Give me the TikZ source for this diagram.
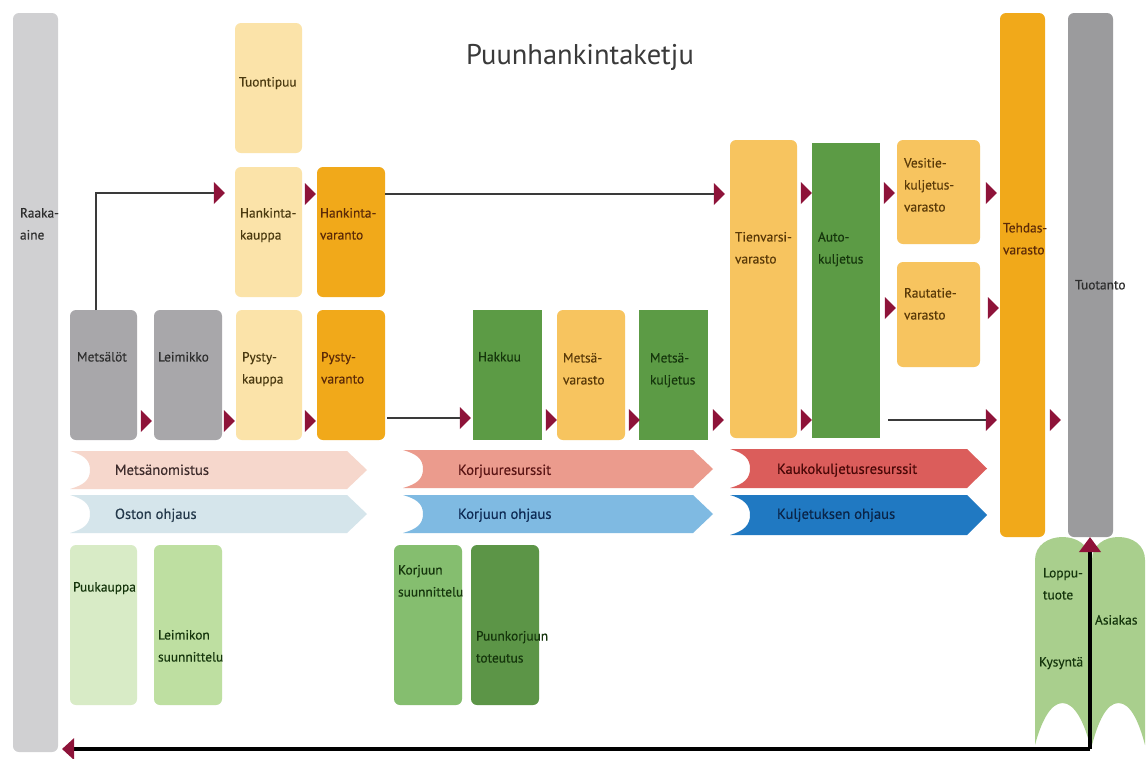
\documentclass[tikz,border=0pt]{standalone}
\usepackage{fontspec}
\setmainfont{PT Sans}
\newfontfamily\lblfont{PT Sans}[FakeBold=0.35]
\usetikzlibrary{shapes.geometric,arrows.meta,calc}
\definecolor{raw}{HTML}{D0D0D2}
\definecolor{gray1}{HTML}{A8A7AA}
\definecolor{ly}{HTML}{FBE3A9}
\definecolor{org}{HTML}{F1A91A}
\definecolor{my}{HTML}{F7C45F}
\definecolor{grn}{HTML}{5C9B45}
\definecolor{tuo}{HTML}{9B9B9D}
\definecolor{puuk}{HTML}{D8EBC6}
\definecolor{leim}{HTML}{BEDFA1}
\definecolor{ksuu}{HTML}{85BE6F}
\definecolor{ptot}{HTML}{5C9547}
\definecolor{asi}{HTML}{A9CF8D}
\definecolor{crim}{HTML}{8E1339}
\definecolor{lnc}{HTML}{3A3A3A}
\definecolor{chA}{HTML}{F6D7CC}
\definecolor{chB}{HTML}{D5E5EB}
\definecolor{chC}{HTML}{EB9B8D}
\definecolor{chD}{HTML}{7FBAE2}
\definecolor{chE}{HTML}{DB5D5B}
\definecolor{chF}{HTML}{2079C2}
\definecolor{tGray}{HTML}{2E2E2E}
\definecolor{tOl}{HTML}{4B3A10}
\definecolor{tOr}{HTML}{5C2A08}
\definecolor{tGr}{HTML}{15350C}
\definecolor{tMy}{HTML}{5A3A08}
\definecolor{tC1}{HTML}{3E2C2C}
\definecolor{tC2}{HTML}{23384A}
\definecolor{tC3}{HTML}{5B1515}
\definecolor{tC4}{HTML}{0E2B55}
\definecolor{tC5}{HTML}{4A0808}
\definecolor{tC6}{HTML}{0A2448}
\tikzset{
  boxr/.style={rectangle, rounded corners=6pt, draw=none, inner sep=0pt, outer sep=0pt},
  boxs/.style={rectangle, draw=none, inner sep=0pt, outer sep=0pt},
  txt/.style={inner sep=0pt, outer sep=0pt, align=left, font=\lblfont\fontsize{13.4}{22}\selectfont},
  ctxt/.style={txt, font=\lblfont\fontsize{14.6}{22}\selectfont},
  tri/.style={isosceles triangle, isosceles triangle stretches, fill=crim, draw=none,
              inner sep=0pt, outer sep=0pt, minimum width=22pt, minimum height=11pt,
              shape border rotate=0},
  flow/.style={draw=lnc, line width=1.4pt},
  big/.style={draw=black, line width=4pt},
}
\newcommand\mkbox[7]{\node[#7, fill=#6, minimum width={#4-#2}, minimum height={#5-#3}, anchor=north west] (#1) at (#2,#3) {};}
\newcommand\lbl[5]{\node[txt, text=#4, anchor=north west] (#1) at (#2,#3-5) {#5};}
\newcommand\clbl[5]{\node[ctxt, text=#4, anchor=north west] (#1) at (#2,#3-5.5) {#5};}
\newcommand\tri[3]{\node[tri] (#1) at (#2+5.5,#3) {};}
\newcommand\chev[6]{%
  \fill[#6] (#2,#4) -- (#3-20,#4) -- (#3,{(#4+#5)/2}) -- (#3-20,#5) -- (#2,#5)
    .. controls (#2+14,#5-4) and (#2+20,{(#4+#5)/2+10}) .. (#2+20,{(#4+#5)/2})
    .. controls (#2+20,{(#4+#5)/2-10}) and (#2+14,#4+4) .. (#2,#4) -- cycle;}
\newcommand\arch[3]{%
  \fill[asi] (#1,745) -- (#1,560) .. controls (#1,545) and (#3-14,537) .. (#3,537)
    .. controls (#3+14,537) and (#2,545) .. (#2,560) -- (#2,745)
    .. controls (#2-6,722) and (#3+12,703) .. (#3,703)
    .. controls (#3-12,703) and (#1+6,722) .. (#1,745) -- cycle;}
\begin{document}
\begin{tikzpicture}[x=1pt,y=-1pt]
\useasboundingbox[fill=white] (0,0) rectangle (1147,758);

% title
\node[inner sep=0pt, text=lnc, font=\fontsize{28.5}{32}\selectfont] (title) at (580,57) {Puunhankintaketju};

% boxes
\mkbox{raaka}{13}{13}{58}{752}{raw}{boxr}
\mkbox{tuontipuu}{235}{23}{302}{153}{ly}{boxr}
\mkbox{hkauppa}{235}{167}{302}{297}{ly}{boxr}
\mkbox{hvaranto}{317}{167}{385}{297}{org}{boxr}
\mkbox{metsalot}{70}{310}{137}{440}{gray1}{boxr}
\mkbox{leimikko}{154}{310}{222}{440}{gray1}{boxr}
\mkbox{pkauppa}{236}{310}{302}{440}{ly}{boxr}
\mkbox{pvaranto}{317}{310}{385}{440}{org}{boxr}
\mkbox{hakkuu}{473}{310}{542}{440}{grn}{boxs}
\mkbox{mvarasto}{557}{310}{625}{440}{my}{boxr}
\mkbox{mkuljetus}{639}{310}{708}{440}{grn}{boxs}
\mkbox{tienvarsi}{730}{140}{797}{438}{my}{boxr}
\mkbox{auto}{812}{143}{880}{438}{grn}{boxs}
\mkbox{vesitie}{897}{140}{980}{244}{my}{boxr}
\mkbox{rautatie}{897}{262}{980}{367}{my}{boxr}
\mkbox{tehdas}{1000}{13}{1045}{537}{org}{boxr}
\mkbox{tuotanto}{1068}{13}{1113}{537}{tuo}{boxr}
\mkbox{puukauppa}{70}{545}{137}{705}{puuk}{boxr}
\mkbox{leimikon}{154}{545}{222}{705}{leim}{boxr}
\mkbox{ksuunn}{394}{545}{462}{705}{ksuu}{boxr}
\mkbox{ptoteutus}{471}{545}{539}{705}{ptot}{boxr}

% chevrons
\chev{c1}{70}{367}{451}{489}{chA}
\chev{c2}{70}{367}{495}{533}{chB}
\chev{c3}{403}{713}{450}{488}{chC}
\chev{c4}{403}{713}{495}{533}{chD}
\chev{c5}{730}{987}{449}{488}{chE}
\chev{c6}{730}{987}{495}{535}{chF}

% customer shapes
\arch{1035}{1090}{1062.5}
\arch{1092}{1145}{1118.5}

% labels
\lbl{raaka-t}{20}{213}{tGray}{Raaka-\\aine}
\lbl{tuontipuu-t}{239}{82}{tOl}{Tuontipuu}
\lbl{hkauppa-t}{240}{213}{tOl}{Hankinta-\\kauppa}
\lbl{hvaranto-t}{320}{213}{tOr}{Hankinta-\\varanto}
\lbl{metsalot-t}{77}{357}{tGray}{Metsälöt}
\lbl{leimikko-t}{158}{357}{tGray}{Leimikko}
\lbl{pkauppa-t}{242}{357}{tOl}{Pysty-\\kauppa}
\lbl{pvaranto-t}{321}{357}{tOr}{Pysty-\\varanto}
\lbl{hakkuu-t}{478}{357}{tGr}{Hakkuu}
\lbl{mvarasto-t}{563}{358}{tMy}{Metsä-\\varasto}
\lbl{mkuljetus-t}{650}{358}{tGr}{Metsä-\\kuljetus}
\lbl{tienvarsi-t}{735}{237}{tMy}{Tienvarsi-\\varasto}
\lbl{auto-t}{818}{237}{tGr}{Auto-\\kuljetus}
\lbl{vesitie-t}{904}{163}{tMy}{Vesitie-\\kuljetus-\\varasto}
\lbl{rautatie-t}{904}{293}{tMy}{Rautatie-\\varasto}
\lbl{tehdas-t}{1003}{228}{tOr}{Tehdas-\\varasto}
\lbl{tuotanto-t}{1075}{285}{tGray}{Tuotanto}
\lbl{puukauppa-t}{73}{587}{tGr}{Puukauppa}
\lbl{leimikon-t}{158}{635}{tGr}{Leimikon\\suunnittelu}
\lbl{ksuunn-t}{398}{570}{tGr}{Korjuun\\suunnittelu}
\lbl{ptoteutus-t}{476}{636}{tGr}{Puunkorjuun\\toteutus}
\lbl{loppu-t}{1043}{573}{tGr}{Loppu-\\tuote}
\lbl{kysynta-t}{1039}{662}{tGr}{Kysyntä}
\lbl{asiakas-t}{1095}{620}{tGr}{Asiakas}
\clbl{c1-t}{115}{470}{tC1}{Metsänomistus}
\clbl{c2-t}{115}{514}{tC2}{Oston ohjaus}
\clbl{c3-t}{458}{470}{tC3}{Korjuuresurssit}
\clbl{c4-t}{458}{514}{tC4}{Korjuun ohjaus}
\clbl{c5-t}{777}{469}{tC5}{Kaukokuljetusresurssit}
\clbl{c6-t}{777}{514}{tC6}{Kuljetuksen ohjaus}

% triangles
\tri{T1}{213}{193}
\tri{T2}{304}{194}
\tri{T3}{140}{421}
\tri{T4}{223}{421}
\tri{T5}{304}{421}
\tri{T6}{459}{418}
\tri{T7}{545}{420}
\tri{T8}{628}{420}
\tri{T9}{712}{420}
\tri{T10}{713}{194}
\tri{T11}{800}{193}
\tri{T12}{883}{193}
\tri{T13}{985}{193}
\tri{T14}{884}{308}
\tri{T15}{987}{308}
\tri{T16}{800}{420}
\tri{T17}{985}{420}
\tri{T18}{1049}{420}

% flow lines
\draw[flow] ([xshift=-7.5pt]metsalot.north) |- (T1.west);
\draw[flow] (hvaranto.east |- T10.west) -- (T10.west);
\draw[flow] ([xshift=2pt]pvaranto.east |- T6.west) -- (T6.west);
\draw[flow] ([xshift=8pt]auto.east |- T17.west) -- (T17.west);

% return arrows
\coordinate (corner) at (1090,749);
\draw[big, -{Triangle[length=15pt,width=21pt,color=crim]}] (corner) -- (corner |- tuotanto.south);
\draw[big, -{Triangle[length=12pt,width=21pt,color=crim]}, shorten >=4pt] (corner) -- (raaka.east |- corner);
\end{tikzpicture}
\end{document}
